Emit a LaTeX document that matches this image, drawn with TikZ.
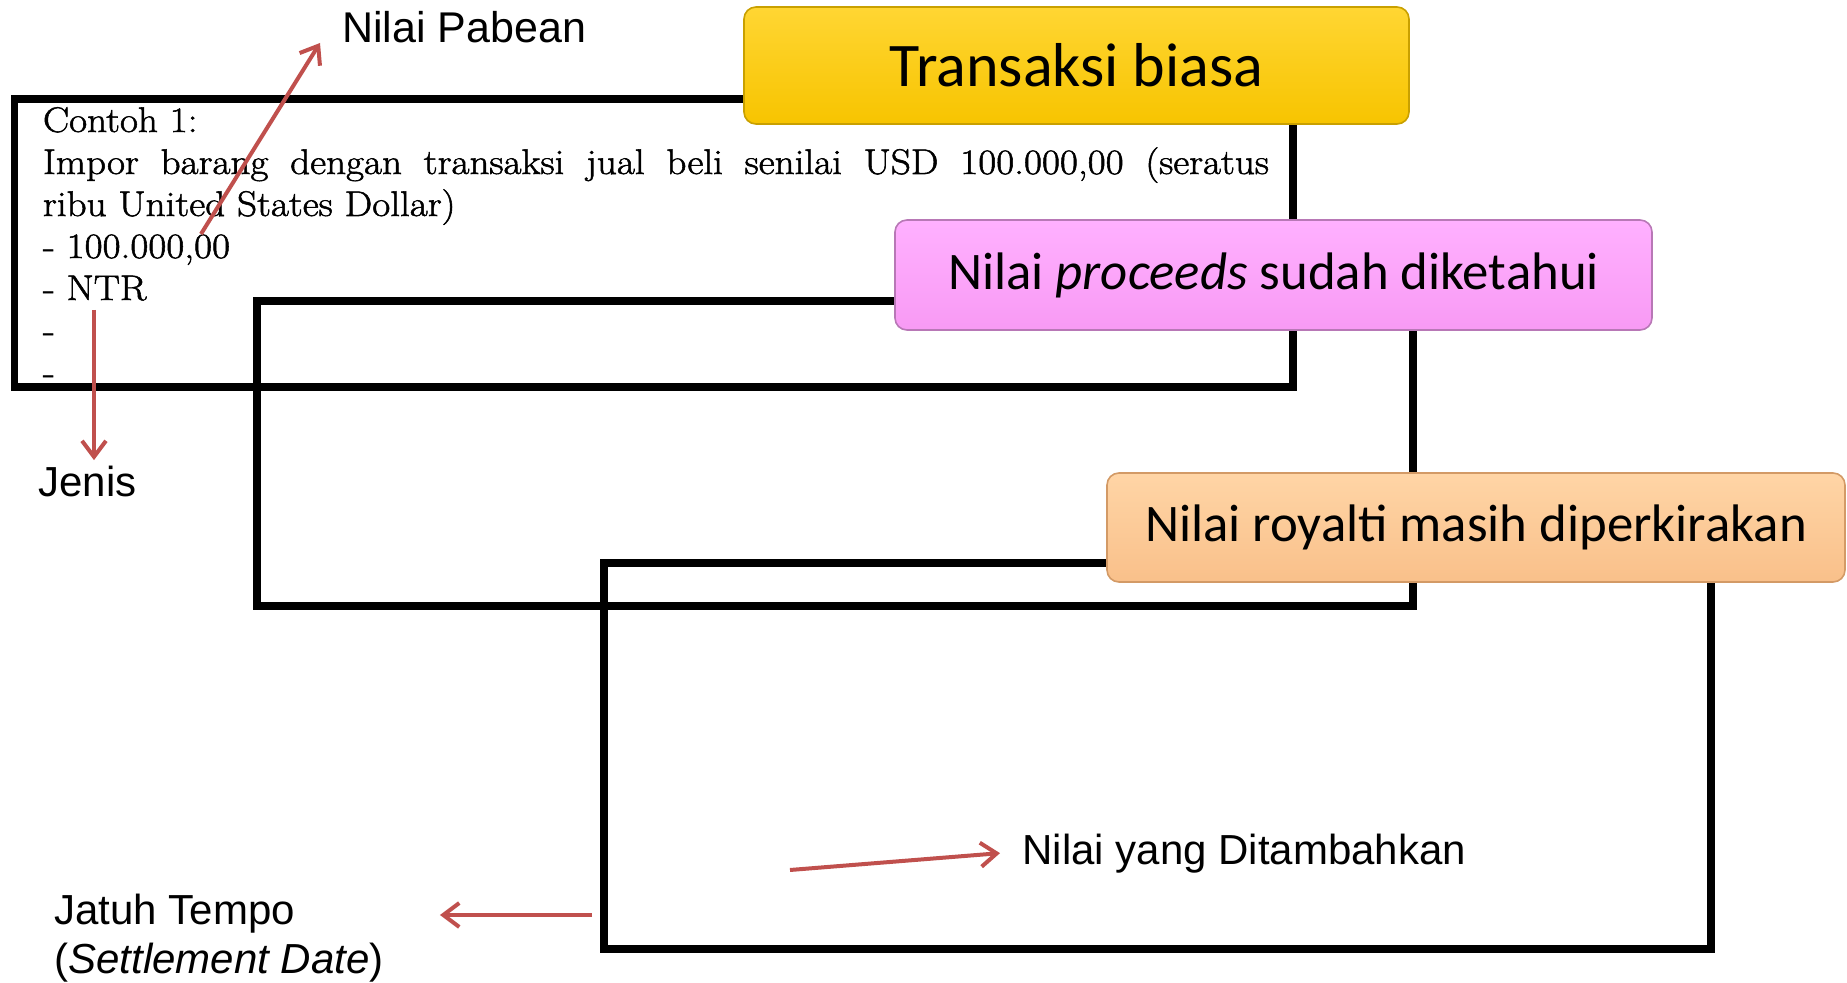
\documentclass[tikz,border=0pt]{standalone}
\usepackage{fontspec}
\newfontfamily\arialfont{Liberation Sans}
\newfontfamily\calfont{Carlito}
\newfontfamily\contohfont{Latin Modern Roman}[FakeStretch=1.1,FakeBold=1.5]
\usetikzlibrary{arrows.meta}
\definecolor{arrowred}{HTML}{C0504D}
\definecolor{yellowtop}{HTML}{FFD633}
\definecolor{yellowbot}{HTML}{F7C400}
\definecolor{yellowedge}{HTML}{C9A000}
\definecolor{pinktop}{HTML}{FFB0FF}
\definecolor{pinkbot}{HTML}{F89AF4}
\definecolor{pinkedge}{HTML}{B878B6}
\definecolor{peachtop}{HTML}{FFD5A6}
\definecolor{peachbot}{HTML}{F9C08A}
\definecolor{peachedge}{HTML}{D39A66}

\begin{document}
\begin{tikzpicture}[x=0.5pt,y=-0.5pt,
    frame/.style={line width=3.75pt},
    redarrow/.style={arrowred,line width=2pt,-{Straight Barb[length=8pt,width=12pt]}},
    lbl/.style={font=\arialfont\fontsize{21}{24.5}\selectfont,inner sep=0pt,align=left},
    tagbox/.style={draw,rounded corners=6pt,line width=0.8pt,font=\calfont\fontsize{26.4}{30}\selectfont}]
  \useasboundingbox (0,0) rectangle (1847,983);

  \draw[frame] (14.5,99) rectangle (1293,387);
  \draw[frame] (257,301) rectangle (1413,606);
  \draw[frame] (604,563) rectangle (1711,949);

  \node[anchor=base west,inner sep=0pt,text width=613pt,font=\contohfont\fontsize{17.8}{21}\selectfont] (contoh) at (42.6,132)
    {Contoh 1:\\
     \leavevmode\hbox to 613pt{Impor\hfill barang\hfill dengan\hfill transaksi\hfill jual\hfill beli\hfill senilai\hfill USD\hfill 100.000,00\hfill (seratus}\\
     ribu United States Dollar)\\
     - 100.000,00\\
     - NTR\\
     -\\
     -};

  \node[tagbox,top color=yellowtop,bottom color=yellowbot,draw=yellowedge,minimum width=332.5pt,minimum height=58.5pt,
    font=\calfont\fontsize{31}{36}\selectfont] (biasa) at (1076.5,65.5) {Transaksi biasa};
  \node[tagbox,top color=pinktop,bottom color=pinkbot,draw=pinkedge,minimum width=378.5pt,minimum height=55pt]
    (proceeds) at (1273.5,275) {Nilai \textit{proceeds} sudah diketahui};
  \node[tagbox,top color=peachtop,bottom color=peachbot,draw=peachedge,minimum width=369pt,minimum height=54.5pt]
    (royalti) at (1476,527.5) {Nilai royalti masih diperkirakan};

  \node[lbl,inner xsep=11pt,anchor=base west,font=\arialfont\fontsize{21.5}{26}\selectfont] (pabean) at (320,43) {Nilai Pabean};
  \node[lbl,anchor=base west] (jenis) at (38,497) {Jenis};
  \node[lbl,anchor=north west] (jatuh) at (54,894) {Jatuh Tempo\\(\textit{Settlement Date})};
  \node[lbl,inner xsep=11pt,anchor=base west] (tambah) at (1000,864) {Nilai yang Ditambahkan};

  \coordinate (pabeanfrom) at (201,234);
  \coordinate (jenisfrom) at (94,310);
  \coordinate (jatuhfrom) at (592,915);
  \coordinate (tambahfrom) at (790,870);

  \draw[redarrow] (pabeanfrom) -- (pabean.base west);
  \draw[redarrow,shorten >=3pt] (jenisfrom) -- (jenisfrom |- jenis.north);
  \draw[redarrow,shorten >=28pt] (jatuhfrom) -- (jatuhfrom -| jatuh.east);
  \draw[redarrow] (tambahfrom) -- (tambah.west);
\end{tikzpicture}
\end{document}
